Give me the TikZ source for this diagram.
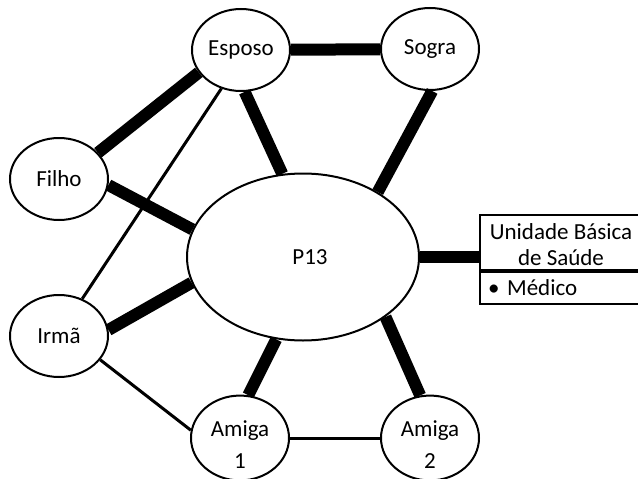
\documentclass[tikz,border=0pt]{standalone}
\usepackage{fontspec}
\setmainfont{Carlito}
\usetikzlibrary{shapes.geometric}
\begin{document}
\begin{tikzpicture}[x=1pt,y=-1pt,
  person/.style={ellipse,draw,line width=2pt,fill=white,inner sep=0pt,
    minimum width=98pt,minimum height=82pt,align=center,
    font=\fontsize{23}{32}\selectfont},
  strong/.style={line width=12pt},
  weak/.style={line width=3pt},
  boxpart/.style={rectangle,draw,line width=2pt,inner sep=0pt,
    font=\fontsize{23}{26}\selectfont}]
\useasboundingbox (0,0) rectangle (638,479);
\begin{scope}
\clip (0,0) rectangle (638,479);
% persons of the network
\node[person] (esposo) at (241,50) {Esposo};
\node[person] (sogra) at (430,49) {Sogra};
\node[person] (filho) at (59,179) {Filho};
\node[person] (irma) at (59,336) {Irmã};
\node[person] (amiga1) at (240,438) {\rule{0pt}{28pt}Amiga\\1};
\node[person] (amiga2) at (430,438) {\rule{0pt}{28pt}Amiga\\2};
\node[person,minimum width=232pt,minimum height=167pt] (p13) at (303,257) {\hspace*{14pt}P13};
% health service box
\node[boxpart,minimum width=162pt,minimum height=55pt,align=center] (ubs) at (561,242.5) {\rule{0pt}{21pt}Unidade Básica\\de Saúde};
\node[boxpart,minimum height=32pt,text width=146pt,inner xsep=8pt,align=left,anchor=north] (med) at (ubs.south) {• Médico};
% ties
\draw[strong] (esposo) -- (sogra);
\draw[strong] (esposo.208) -- (filho.34);
\draw[strong] (esposo.275) -- (p13.104);
\draw[weak] (esposo.243) -- (irma.58);
\draw[strong] (filho.-7) -- (p13.166);
\draw[strong] (sogra.-87) -- (p13.41);
\draw[strong] (p13.east) -- (p13.east -| ubs.west);
\draw[strong] (irma.7) -- (p13.193);
\draw[weak] (irma.-30) -- (amiga1.171);
\draw[strong] (amiga1.79) -- (p13.252);
\draw[weak] (amiga1) -- (amiga2);
\draw[strong] (amiga2.103) -- (p13.-36);
\end{scope}
\end{tikzpicture}
\end{document}
